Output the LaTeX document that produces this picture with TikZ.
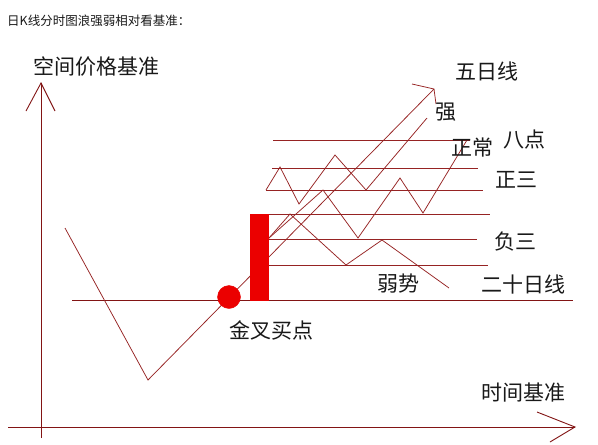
\documentclass[tikz,border=0pt]{standalone}
\usepackage{fontspec}
\newfontfamily\cjk{Noto Sans CJK SC}
\definecolor{ln}{RGB}{150,35,35}
\definecolor{axc}{RGB}{130,20,20}
\definecolor{bright}{RGB}{235,0,0}
\definecolor{txt}{RGB}{25,25,25}
\begin{document}
\begin{tikzpicture}[x=1pt,y=-1pt,
  thinln/.style={draw=ln,line width=0.75pt,line join=miter},
  axisln/.style={draw=axc,line width=0.9pt},
  lbl/.style={inner sep=0pt,text=txt,font=\cjk\fontsize{21}{21}\selectfont},
  ttl/.style={inner sep=0pt,text=txt,font=\cjk\fontsize{12.5}{13}\selectfont,anchor=west}]
\useasboundingbox[fill=white] (0,0) rectangle (598,445);

% axes
\coordinate (ybot) at (41,438); \coordinate (ytop) at (41,83);
\coordinate (yl) at (26,111); \coordinate (yr) at (55,111);
\coordinate (xl) at (8,427); \coordinate (xr) at (575,427);
\coordinate (xu) at (537,412); \coordinate (xd) at (550,442);
\draw[axisln] (ybot) -- (ytop);
\draw[axisln] (yl) -- (ytop) -- (yr);
\draw[axisln] (xl) -- (xr);
\draw[axisln] (xu) -- (xr) -- (xd);

% horizontal levels
\coordinate (h0a) at (72,300);  \coordinate (h0b) at (573,300);
\coordinate (h1a) at (273,140); \coordinate (h1b) at (470,140);
\coordinate (h2a) at (272,168); \coordinate (h2b) at (478,168);
\coordinate (h3a) at (266,190); \coordinate (h3b) at (483,190);
\coordinate (h4a) at (269,214); \coordinate (h4b) at (490,214);
\coordinate (h5a) at (269,239); \coordinate (h5b) at (477,239);
\coordinate (h6a) at (269,265); \coordinate (h6b) at (488,265);
\draw[axisln] (h0a) -- (h0b);
\foreach \i in {1,...,6} {\draw[thinln] (h\i a) -- (h\i b);}

% five-day line with arrow
\coordinate (f0) at (65,228); \coordinate (f1) at (148,380); \coordinate (f2) at (434,89);
\coordinate (fa) at (412,84); \coordinate (fb) at (436,104);
\draw[thinln] (f0) -- (f1) -- (f2);
\draw[thinln] (fa) -- (f2) -- (fb);

% strong wave
\coordinate (s0) at (266,190); \coordinate (s1) at (280,167); \coordinate (s2) at (299,204);
\coordinate (s3) at (335,155); \coordinate (s4) at (366,190); \coordinate (s5) at (427,118);
\draw[thinln] (s0) -- (s1) -- (s2) -- (s3) -- (s4) -- (s5);

% normal wave
\coordinate (n0) at (269,238); \coordinate (n1) at (323,190); \coordinate (n2) at (358,238);
\coordinate (n3) at (400,178); \coordinate (n4) at (423,213); \coordinate (n5) at (467,140);
\draw[thinln] (n0) -- (n1) -- (n2) -- (n3) -- (n4) -- (n5);

% weak wave
\coordinate (w0) at (269,238); \coordinate (w1) at (290,214); \coordinate (w2) at (346,265);
\coordinate (w3) at (382,240); \coordinate (w4) at (449,288);
\draw[thinln] (w0) -- (w1) -- (w2) -- (w3) -- (w4);

% bar and golden cross point
\node[fill=bright,draw=bright,minimum width=18pt,minimum height=86pt,inner sep=0pt] (bar) at (259.5,257) {};
\node[circle,fill=bright,draw=bright,minimum size=23pt,inner sep=0pt] (gc) at (229,297) {};

% labels
\node[ttl] (title) at (7,20.5) {日K线分时图浪强弱相对看基准：};
\node[lbl] (yname) at (97,67) {空间价格基准};
\node[lbl] (xname) at (523,393) {时间基准};
\node[lbl] (t5) at (487,71) {五日线};
\node[lbl] (tq) at (446,112) {强};
\node[lbl] (tzc) at (472,148) {正常};
\node[lbl] (tbd) at (524,140) {八点};
\node[lbl] (tzs) at (516,180) {正三};
\node[lbl] (tfs) at (515,242) {负三};
\node[lbl] (t20) at (523,284) {二十日线};
\node[lbl] (tr) at (398,284) {弱势};
\node[lbl] (tjc) at (271,330) {金叉买点};
\end{tikzpicture}
\end{document}
